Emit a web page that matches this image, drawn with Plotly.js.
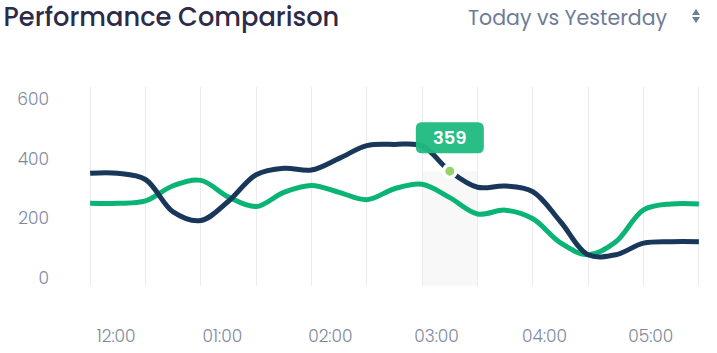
<!DOCTYPE html>
<html>
<head>
<meta charset="utf-8">
<script src="https://cdn.plot.ly/plotly-3.0.1.min.js"></script>
<style>html,body{margin:0;padding:0;background:#fff;}#chart{width:717px;height:353px;}</style>
</head>
<body>
<div id="chart"></div>
<script>
// Data
const xPos = [0,0.5,1,1.5,2,2.5,3,3.5,4,4.5,5,5.5,6,6.5,7,7.5,8,8.5,9,9.5,10,10.5,11];
const today = [352,352,331,222,193,258,347,369,363,402,445,449,444,359,305,309,290,189,78,78,117,122,122];
const yesterday = [251,251,259,310,328,272,240,288,311,288,263,300,315,270,215,228,199,118,78,122,229,249,249];
const gridVals = [0,1,2,3,4,5,6,7,8,9,10,11];
const timeTickVals = [0.47,2.39,4.34,6.26,8.21,10.13];
const timeTickText = ['12:00','01:00','02:00','03:00','04:00','05:00'];
const yTickVals = [0,200,400,600];
const hoverX = 6.5;
const hoverValue = 359;

const FONT = 'Poppins, Inter, sans-serif';
const DARK = '#19375a';
const GREEN = '#0ab474';
const GRAY = '#7d89a1';

const traces = [
  {x: xPos, y: yesterday, type: 'scatter', mode: 'lines', name: 'Yesterday',
   line: {color: GREEN, width: 5, shape: 'spline', smoothing: 1}, hoverinfo: 'skip'},
  {x: xPos, y: today, type: 'scatter', mode: 'lines', name: 'Today',
   line: {color: DARK, width: 5, shape: 'spline', smoothing: 1}, hoverinfo: 'skip'},
  {x: [hoverX], y: [hoverValue], type: 'scatter', mode: 'markers', xaxis: 'x', yaxis: 'y',
   marker: {size: 12.5, color: '#93d36e', line: {color: '#ffffff', width: 3.5}}, hoverinfo: 'skip'},
  {x: timeTickVals, y: timeTickVals.map(() => null), xaxis: 'x2', yaxis: 'y', type: 'scatter', mode: 'lines', hoverinfo: 'skip'}
];

const r = 6;
const tipPath = `M ${-34+r},49 L ${34-r},49 Q 34,49 34,${49-r} L 34,${18+r} Q 34,18 ${34-r},18 L ${-34+r},18 Q -34,18 -34,${18+r} L -34,${49-r} Q -34,49 ${-34+r},49 Z`;

const layout = {
  width: 717, height: 353,
  margin: {l: 89, r: 17, t: 87, b: 67},
  paper_bgcolor: '#ffffff', plot_bgcolor: '#ffffff',
  showlegend: false,
  font: {family: FONT, color: GRAY},
  title: {text: 'Performance Comparison', x: 0.005, xanchor: 'left', xref: 'container',
          y: 1 - 17/353, yanchor: 'middle', yref: 'container',
          font: {family: FONT, size: 25.7, weight: 500, color: '#2d2b4a'}},
  xaxis: {range: [-0.02, 11.02], tickvals: gridVals, showticklabels: false, showgrid: true,
          gridcolor: '#ebebeb', gridwidth: 1, zeroline: false, showline: false, ticks: ''},
  xaxis2: {range: [-0.02, 11.02], overlaying: 'x', anchor: 'y', side: 'bottom', tickvals: timeTickVals,
           ticktext: timeTickText, showgrid: false, zeroline: false, showline: false, ticks: '',
           ticklabelstandoff: 38, tickfont: {family: FONT, size: 17, color: GRAY, weight: 300}},
  yaxis: {range: [-27, 642], tickvals: yTickVals, showgrid: false, zeroline: false, showline: false,
          ticks: '', ticklabelstandoff: 39, tickfont: {family: FONT, size: 17, color: GRAY, weight: 300}},
  shapes: [
    {type: 'rect', xref: 'x', yref: 'y', x0: 6, x1: 7, y0: -27, y1: hoverValue,
     fillcolor: '#f8f8f9', line: {width: 0}, layer: 'below'},
    {type: 'path', xref: 'x', yref: 'y', xsizemode: 'pixel', ysizemode: 'pixel',
     xanchor: hoverX, yanchor: hoverValue, path: tipPath, fillcolor: '#1dba80',
     opacity: 0.95, line: {width: 0}, layer: 'above'},
    {type: 'path', xref: 'paper', yref: 'paper', xsizemode: 'pixel', ysizemode: 'pixel',
     xanchor: (696-89)/611, yanchor: (286-16)/199, path: 'M -4,1 L 4,1 L 0,7 Z',
     fillcolor: '#6e7b97', line: {width: 0}},
    {type: 'path', xref: 'paper', yref: 'paper', xsizemode: 'pixel', ysizemode: 'pixel',
     xanchor: (696-89)/611, yanchor: (286-16)/199, path: 'M -4,-1 L 4,-1 L 0,-7 Z',
     fillcolor: '#6e7b97', line: {width: 0}}
  ],
  annotations: [
    {text: String(hoverValue), x: hoverX, y: hoverValue, xref: 'x', yref: 'y', showarrow: false,
     yshift: 33.5, font: {family: FONT, size: 18, color: '#ffffff', weight: 600}},
    {text: 'Today vs Yesterday', xref: 'paper', yref: 'paper', x: (466-89)/611, y: (286-17.5)/199,
     xanchor: 'left', yanchor: 'middle', showarrow: false,
     font: {family: FONT, size: 20.5, color: '#6e7b97', weight: 400}}
  ]
};

Plotly.newPlot('chart', traces, layout, {displayModeBar: false, staticPlot: true});
</script>
</body>
</html>
